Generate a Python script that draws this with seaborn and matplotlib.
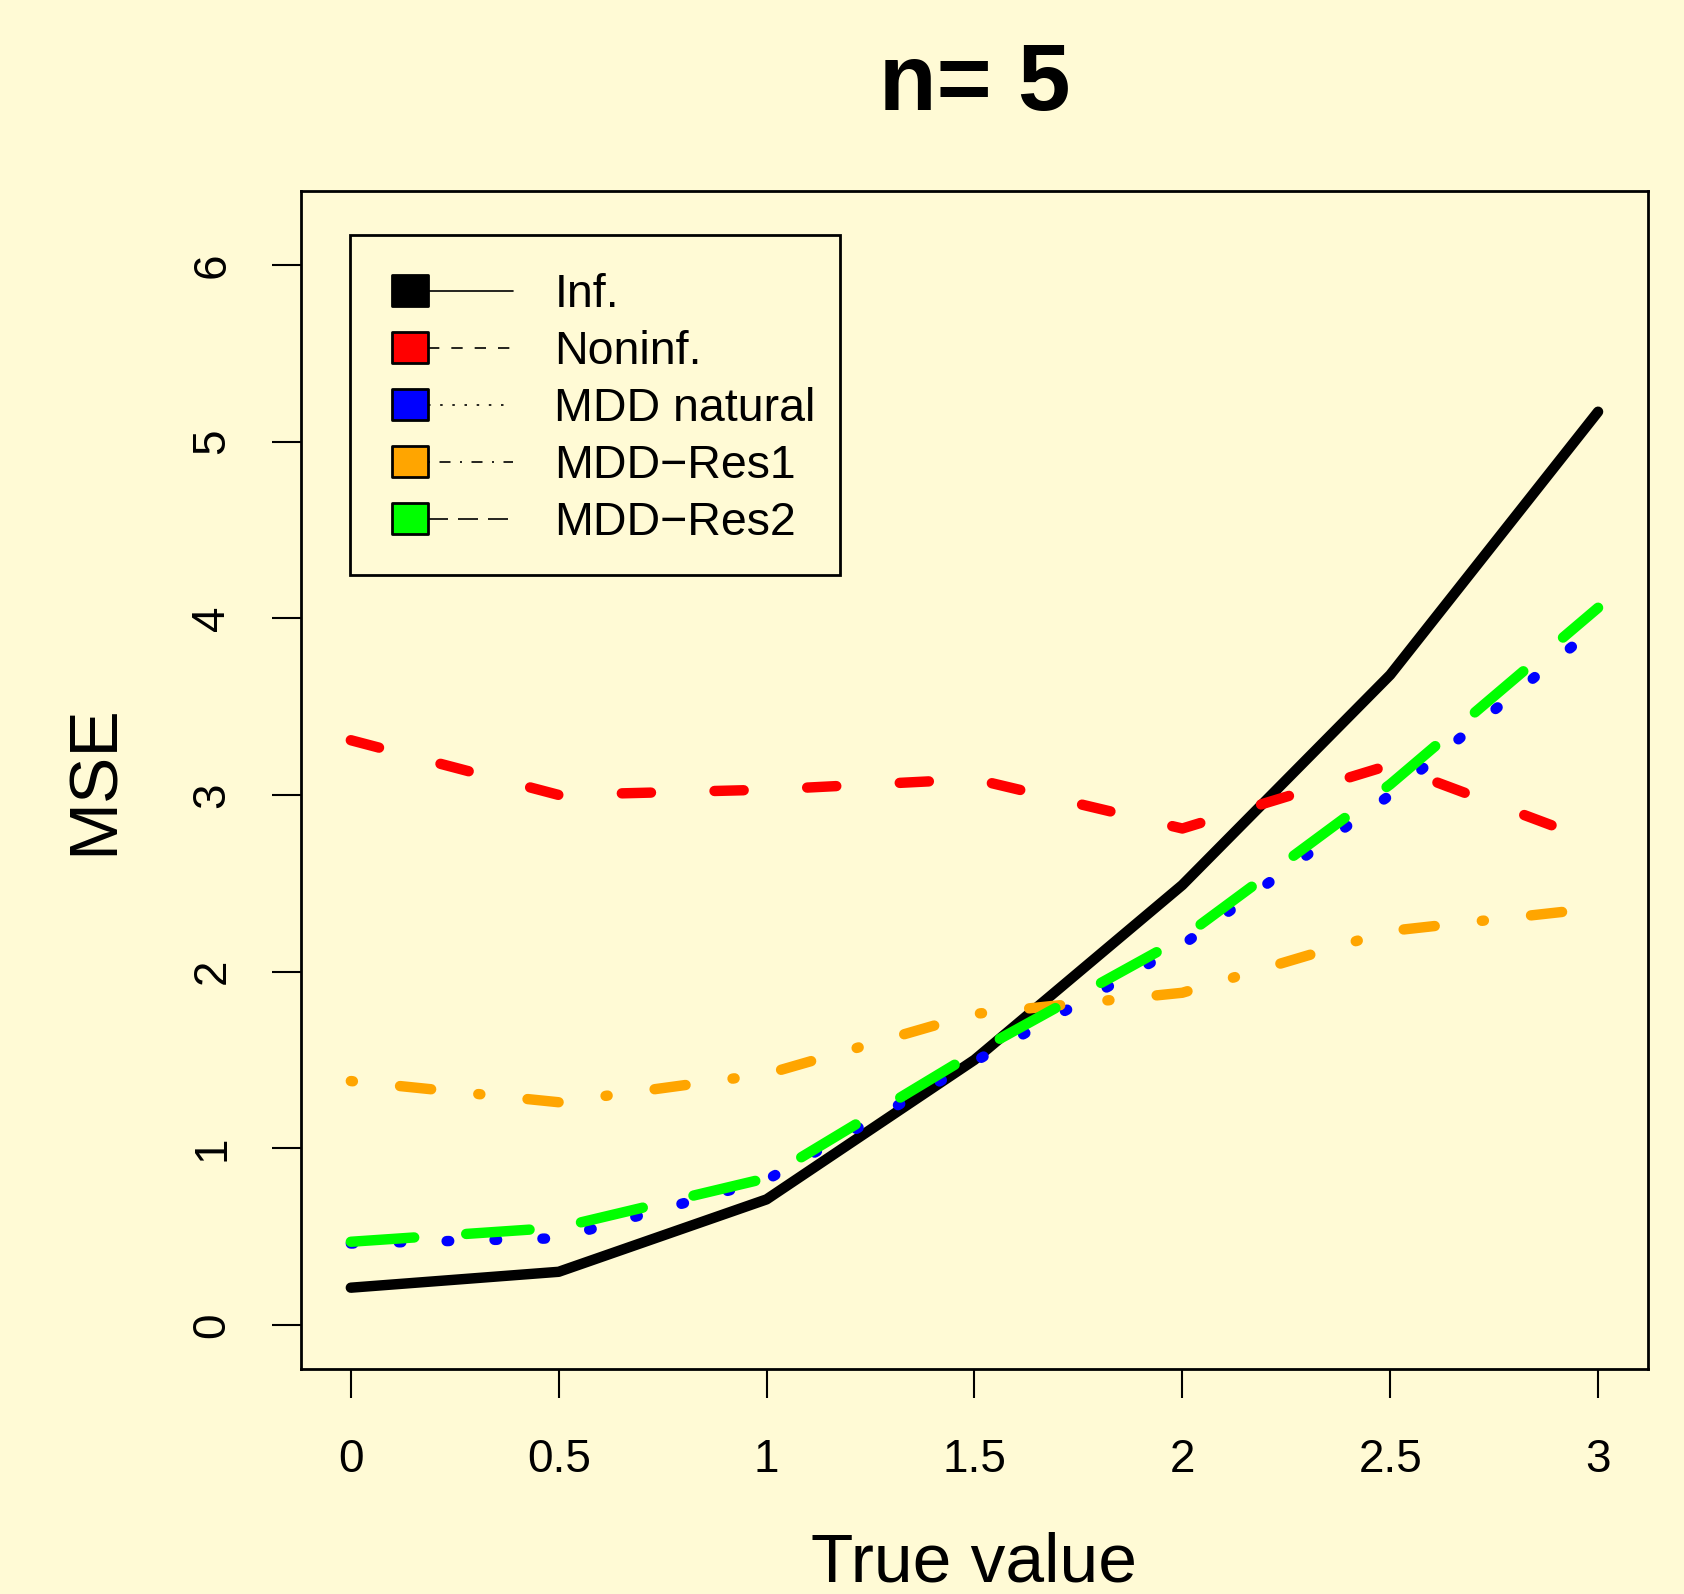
import matplotlib
matplotlib.use("Agg")
import matplotlib.pyplot as plt
import seaborn as sns
import pandas as pd
from matplotlib.legend_handler import HandlerBase
from matplotlib.patches import Rectangle
from matplotlib.lines import Line2D

# values
true_value = [0, 0.5, 1, 1.5, 2, 2.5, 3]
mse_inf = [0.21, 0.30, 0.71, 1.50, 2.49, 3.68, 5.17]
mse_noninf = [3.31, 3.00, 3.03, 3.09, 2.81, 3.17, 2.73]
mse_mdd_natural = [0.46, 0.49, 0.82, 1.49, 2.15, 3.00, 3.96]
mse_mdd_res1 = [1.38, 1.26, 1.42, 1.76, 1.88, 2.23, 2.36]
mse_mdd_res2 = [0.47, 0.55, 0.83, 1.54, 2.19, 3.06, 4.06]

method_names = ["Inf.", "Noninf.", "MDD natural", "MDD\u2212Res1", "MDD\u2212Res2"]
method_colors = ["black", "red", "blue", "orange", "#00FF00"]

x_ticks = [0, 0.5, 1, 1.5, 2, 2.5, 3]
x_tick_labels = ["0", "0.5", "1", "1.5", "2", "2.5", "3"]
y_ticks = [0, 1, 2, 3, 4, 5, 6]
y_tick_labels = ["0", "1", "2", "3", "4", "5", "6"]

# dash patterns in units of line width
plot_dashes = dict(zip(method_names, [
    "",
    (2.8, 6.1),
    (0.25, 4.35),
    (0.2, 4.55, 3.0, 4.55),
    (6.1, 5.0),
]))
legend_dashes = dict(zip(method_names, [
    None,
    (6.8, 7.2),
    (1.5, 5.8),
    (1.2, 5.7, 6.6, 5.7),
    (12.0, 6.0),
]))

bg = "#FFFAD5"

sns.set_style("ticks")
plt.rcParams["font.family"] = ["Liberation Sans", "DejaVu Sans"]
plt.rcParams["text.color"] = "black"
plt.rcParams["axes.labelcolor"] = "black"

df = pd.DataFrame({
    "True value": true_value * 5,
    "MSE": mse_inf + mse_noninf + mse_mdd_natural + mse_mdd_res1 + mse_mdd_res2,
    "method": [m for m in method_names for _ in true_value],
})

fig = plt.figure(figsize=(16.84, 15.94), dpi=100, facecolor=bg)
ax = fig.add_axes([0.1787, 0.1412, 0.7999, 0.7390])
ax.set_facecolor(bg)

sns.lineplot(data=df, x="True value", y="MSE", hue="method", style="method",
             hue_order=method_names, style_order=method_names,
             palette=dict(zip(method_names, method_colors)), dashes=plot_dashes,
             linewidth=7.5, legend=False, ax=ax, errorbar=None, sort=False,
             dash_capstyle="round", solid_capstyle="round",
             dash_joinstyle="round", solid_joinstyle="round")

ax.set_xlim(-0.12, 3.12)
ax.set_ylim(-0.25, 6.42)
ax.set_xticks(x_ticks, x_tick_labels)
ax.set_yticks(y_ticks, y_tick_labels)
ax.tick_params(length=21, width=1.5, labelsize=33, colors="black", direction="out")
ax.tick_params(axis="x", pad=28.5)
ax.tick_params(axis="y", pad=27, labelrotation=90)
for lab in ax.get_yticklabels():
    lab.set_va("center")
for sp in ax.spines.values():
    sp.set_visible(True)
    sp.set_linewidth(2)
    sp.set_color("black")

ax.set_title("n= 5", fontsize=68, fontweight="bold", pad=58, color="black")
ax.set_xlabel("True value", fontsize=50)
ax.set_ylabel("MSE", fontsize=50)
ax.xaxis.set_label_coords(0.5, -0.1384)
ax.yaxis.set_label_coords(-0.129, 0.5)


class SquareLineHandler(HandlerBase):
    def create_artists(self, legend, orig_handle, xdescent, ydescent,
                       width, height, fontsize, trans):
        name = orig_handle.get_label()
        sq_w, sq_h = 26, 22
        x0 = -xdescent
        yc = height / 2 - ydescent
        ln = Line2D([x0 + sq_w, x0 + width], [yc, yc], color="black", lw=1.2,
                    transform=trans)
        if legend_dashes[name] is not None:
            ln.set_dashes(legend_dashes[name])
        sq = Rectangle((x0, yc - sq_h / 2), sq_w, sq_h,
                       facecolor=orig_handle.get_color(), edgecolor="black",
                       lw=2, joinstyle="round", transform=trans)
        return [ln, sq]


# legend box drawn separately so its padding can be uneven, like the original
ax.add_patch(Rectangle((0.0364, 0.6740), 0.3637, 0.2886, transform=ax.transAxes,
                       facecolor=bg, edgecolor="black", lw=2, zorder=4))

handles = [Line2D([], [], color=c, label=m) for m, c in zip(method_names, method_colors)]
leg = ax.legend(handles=handles, handler_map={Line2D: SquareLineHandler()},
                loc="upper left", bbox_to_anchor=(0.0676, 0.9304), borderaxespad=0,
                fontsize=33.5, frameon=False, borderpad=0, labelspacing=0.28,
                handlelength=2.6, handletextpad=0.89)
leg.set_zorder(5)

fig.savefig("out.png", dpi=100, facecolor=bg)
